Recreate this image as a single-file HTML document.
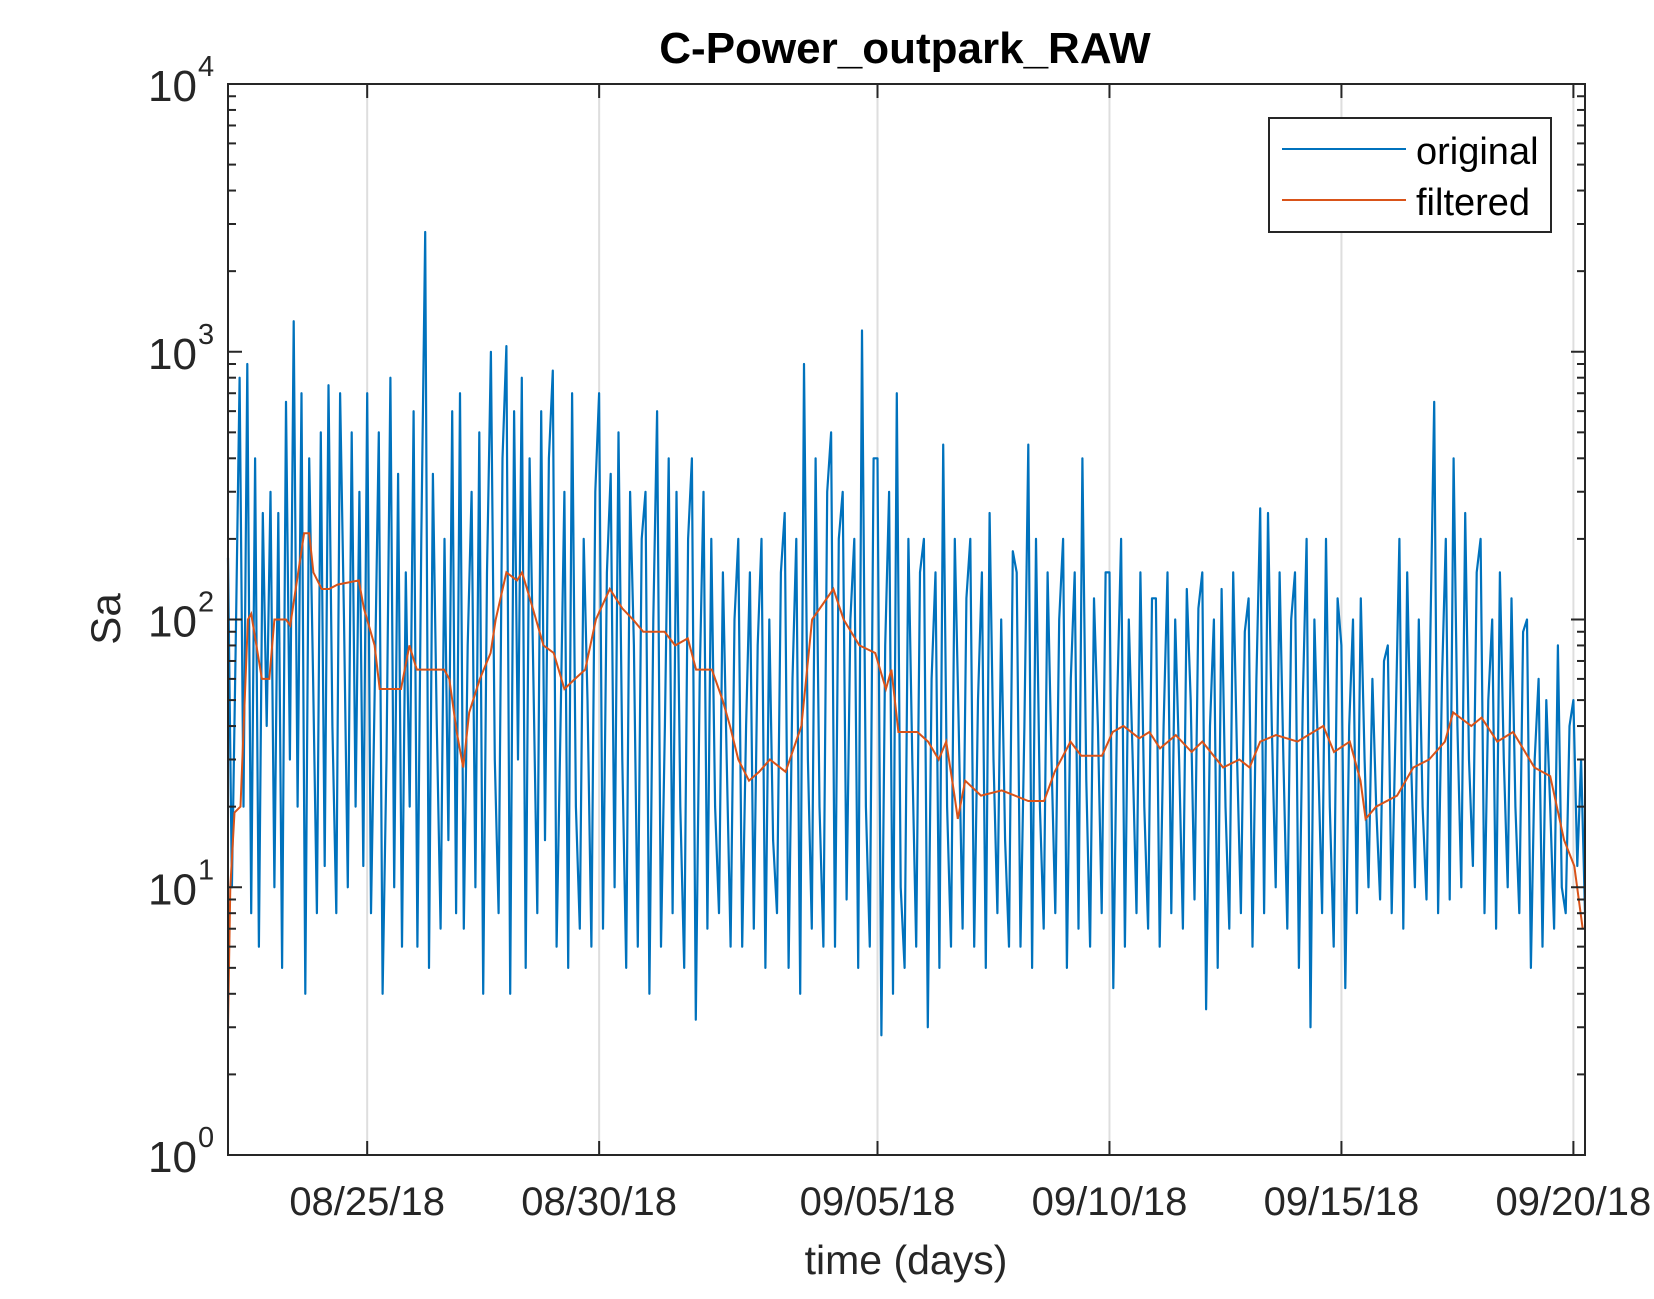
<!DOCTYPE html>
<html><head><meta charset="utf-8"><style>
body{margin:0;background:#fff}
svg{display:block;font-family:"Liberation Sans",Arial,sans-serif}
</style></head><body>
<svg id="chart" width="1654" height="1299" viewBox="0 0 1654 1299">
<rect width="1654" height="1299" fill="#fff"/>
<g id="grid"></g>
<g id="series"></g>
<g id="axes"></g>
<text x="905" y="63" font-size="44" font-weight="bold" text-anchor="middle" fill="#000">C-Power_outpark_RAW</text>
<text x="906" y="1274" font-size="41" text-anchor="middle" fill="#262626">time (days)</text>
<text transform="translate(120,619) rotate(-90)" font-size="42" text-anchor="middle" fill="#262626">Sa</text>
<g>
<rect x="1269" y="118" width="282" height="114" fill="#fff" stroke="#262626" stroke-width="2"/>
<line x1="1282" y1="149" x2="1406" y2="149" stroke="#0072BD" stroke-width="2"/>
<text x="1416" y="164" font-size="38" fill="#000">original</text>
<line x1="1282" y1="200" x2="1406" y2="200" stroke="#D95319" stroke-width="2"/>
<text x="1416" y="215" font-size="38" fill="#000">filtered</text>
</g>
</svg>
<script>
// ---- data ----
const xTickDays = [3, 8, 14, 19, 24, 29];
const xTickLabels = ["08/25/18", "08/30/18", "09/05/18", "09/10/18", "09/15/18", "09/20/18"];
const yDecades = [0, 1, 2, 3, 4];
const originalValues = [
170,10,80,800,20,900,8,400,6,250,40,300,
10,250,5,650,30,1300,20,700,4,400,60,8,
500,12,750,40,8,700,100,10,500,20,300,12,
700,8,60,500,4,30,800,10,350,6,150,20,
600,6,200,2800,5,350,40,7,200,15,600,8,
700,7,80,300,10,500,4,150,1000,30,8,400,
1050,4,600,30,800,5,400,60,8,600,15,400,
850,6,40,300,5,700,20,7,200,50,6,300,
700,7,150,350,10,500,30,5,300,80,6,200,
300,4,100,600,6,40,400,8,300,20,5,200,
400,3.2,60,300,7,200,20,8,150,30,6,100,
200,6,40,150,7,80,200,5,100,15,8,150,
250,5,60,200,4,900,30,7,400,20,6,300,
500,6,200,300,9,100,200,5,1200,20,6,400,
400,2.8,80,300,4,700,10,5,200,30,6,150,
200,3,60,150,5,450,20,6,200,40,7,120,
200,6,50,150,5,250,30,8,100,15,6,180,
150,6,40,450,5,200,20,7,150,30,8,100,
200,5,60,150,7,400,25,6,120,40,8,150,
150,4.2,50,200,6,100,30,8,150,20,7,120,
120,6,40,150,8,100,30,7,130,50,9,110,
150,3.5,40,100,5,130,20,7,150,30,8,90,
120,6,60,260,8,250,40,10,150,30,7,100,
150,5,50,200,3.0,100,30,8,200,20,6,120,
80,4.2,40,100,8,120,30,10,60,20,9,70,
80,8,40,200,7,150,30,10,100,20,9,90,
650,8,60,200,9,400,40,10,250,30,12,150,
200,8,50,100,7,150,30,10,120,20,8,90,
100,5,30,60,6,50,20,7,80,10,8,40,
50,12,30,8
];
const filteredDays = [0,0.05,0.14,0.27,0.43,0.5,0.73,0.89,1.0,1.25,1.34,1.64,1.75,1.84,2.02,2.18,2.36,2.82,2.93,3.16,3.27,3.73,3.91,4.07,4.66,4.77,4.93,5.07,5.2,5.43,5.66,5.77,6.0,6.23,6.34,6.57,6.8,7.02,7.25,7.48,7.7,7.93,8.23,8.5,8.73,8.95,9.41,9.64,9.91,10.09,10.43,10.66,10.82,11.0,11.23,11.45,11.68,12.02,12.36,12.59,13.05,13.27,13.61,13.95,14.18,14.3,14.45,14.86,15.09,15.32,15.48,15.66,15.73,15.89,16.23,16.68,17.25,17.59,17.82,18.16,18.39,18.84,19.07,19.3,19.64,19.86,20.09,20.43,20.77,21.0,21.45,21.8,22.02,22.25,22.59,23.05,23.61,23.84,24.18,24.41,24.52,24.75,25.2,25.55,25.89,26.23,26.41,26.8,27.02,27.36,27.7,28.16,28.5,28.8,29.02,29.2];
const filteredValues = [3,10,19,20,100,105,60,60,100,100,95,210,210,150,130,130,135,140,110,80,55,55,80,65,65,60,38,28,45,60,75,100,150,140,150,110,80,75,55,60,65,100,130,110,100,90,90,80,85,65,65,50,40,30,25,27,30,27,40,100,130,100,80,75,55,65,38,38,35,30,35,22,18,25,22,23,21,21,27,35,31,31,38,40,36,38,33,37,32,35,28,30,28,35,37,35,40,32,35,25,18,20,22,28,30,35,45,40,43,35,38,28,26,15,12,7];

// ---- axes ----
const L = 228, R = 1585, T = 84, B = 1155;
const dayMax = 29.25;
const xScale = d => L + (d / dayMax) * (R - L);
const yScale = v => B - (Math.log10(v) / 4) * (B - T);
const NS = "http://www.w3.org/2000/svg";
function mk(tag, attrs, parent) {
  const el = document.createElementNS(NS, tag);
  for (const k in attrs) el.setAttribute(k, attrs[k]);
  parent.appendChild(el);
  return el;
}
const grid = document.getElementById('grid');
const axes = document.getElementById('axes');
const series = document.getElementById('series');

xTickDays.forEach((d, i) => {
  const x = xScale(d);
  const g = mk('line', {x1: x, y1: T, x2: x, y2: B, stroke: '#dedede', 'stroke-width': 2}, grid);
  
  
  const t1 = mk('line', {x1: x, y1: B, x2: x, y2: B - 14, stroke: '#262626', 'stroke-width': 2}, axes);
  
  
  const t2 = mk('line', {x1: x, y1: T, x2: x, y2: T + 14, stroke: '#262626', 'stroke-width': 2}, axes);
  
  
  const lb = mk('text', {x: x, y: 1215, 'font-size': 40, 'text-anchor': 'middle', fill: '#262626'}, axes);
  lb.textContent = xTickLabels[i];
  
  
});

yDecades.forEach(e => {
  const y = yScale(Math.pow(10, e));
  [[L, L + 14], [R, R - 14]].forEach(p => {
    const tk = mk('line', {x1: p[0], y1: y, x2: p[1], y2: y, stroke: '#262626', 'stroke-width': 2}, axes);
    
    
  });
  const lb = mk('text', {x: 197, y: y + 17, 'font-size': 44, 'text-anchor': 'end', fill: '#262626'}, axes);
  lb.textContent = '10';
  
  
  const sp = mk('text', {x: 198, y: y - 8, 'font-size': 29, fill: '#262626'}, axes);
  sp.textContent = String(e);
  
  
  if (e < 4) {
    for (let m = 2; m <= 9; m++) {
      const ym = yScale(m * Math.pow(10, e));
      [[L, L + 8], [R, R - 8]].forEach(p => {
        const mt = mk('line', {x1: p[0], y1: ym, x2: p[1], y2: ym, stroke: '#262626', 'stroke-width': 2}, axes);
        
        
      });
    }
  }
});

const n = originalValues.length;
const origPts = originalValues.map((v, i) => xScale(i * dayMax / (n - 1)).toFixed(1) + ',' + yScale(v).toFixed(1)).join(' ');
const po = mk('polyline', {points: origPts, fill: 'none', stroke: '#0072BD', 'stroke-width': 2.2, 'stroke-linejoin': 'round'}, series);



const filtPts = filteredValues.map((v, i) => xScale(filteredDays[i]).toFixed(1) + ',' + yScale(v).toFixed(1)).join(' ');
const pf = mk('polyline', {points: filtPts, fill: 'none', stroke: '#D95319', 'stroke-width': 2}, series);



const box = mk('rect', {x: L, y: T, width: R - L, height: B - T, fill: 'none', stroke: '#262626', 'stroke-width': 2}, axes);


</script>
</body></html>
